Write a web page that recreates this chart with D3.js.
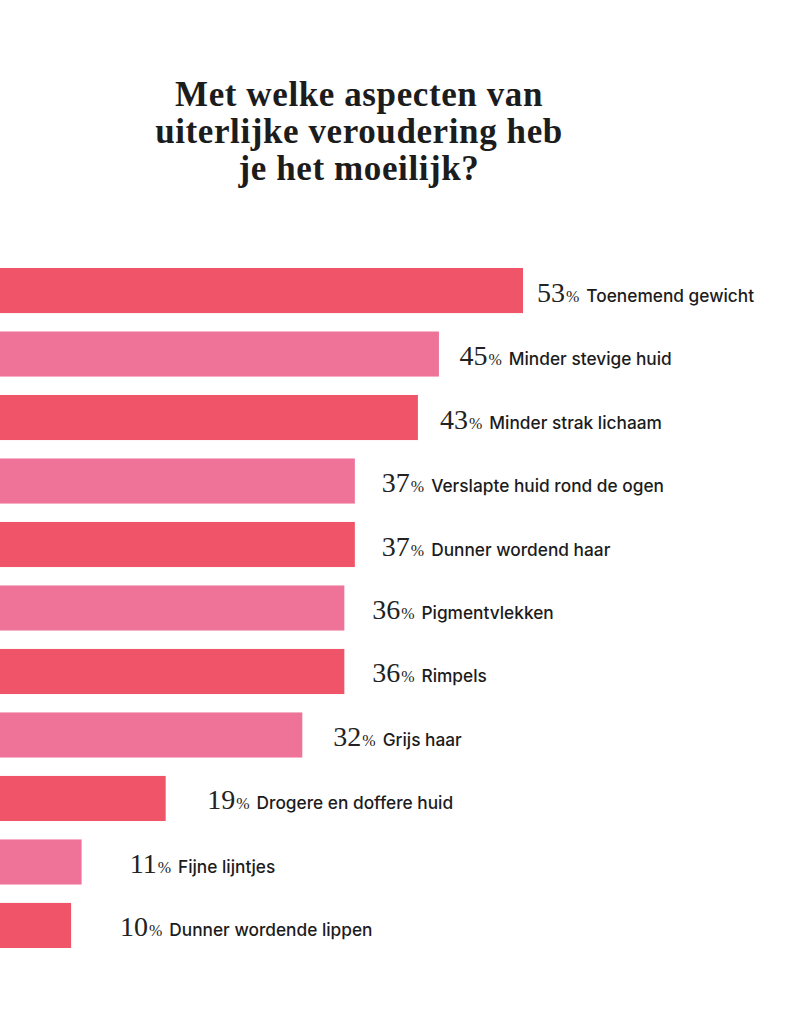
<!DOCTYPE html>
<html><head><meta charset="utf-8">
<script src="https://cdn.jsdelivr.net/npm/d3@7"></script>
<style>html,body{margin:0;padding:0;background:#fff;}svg{display:block;}</style>
</head><body>
<script>
const titleLines = ["Met welke aspecten van", "uiterlijke veroudering heb", "je het moeilijk?"];
const categories = ["Toenemend gewicht","Minder stevige huid","Minder strak lichaam","Verslapte huid rond de ogen","Dunner wordend haar","Pigmentvlekken","Rimpels","Grijs haar","Drogere en doffere huid","Fijne lijntjes","Dunner wordende lippen"];
const values = [53,45,43,37,37,36,36,32,19,11,10];
const colors = ["#F05468","#EF7399"];

const W = 789, H = 1024;
const svg = d3.select("body").append("svg").attr("width", W).attr("height", H);

svg.append("g").selectAll("text").data(titleLines).join("text")
  .attr("x", 359).attr("y", (d,i) => 106 + i*37)
  .attr("text-anchor", "middle")
  .attr("font-family", "Liberation Serif, serif")
  .attr("font-weight", "bold")
  .attr("font-size", 35)
  .attr("letter-spacing", 0.6)
  .attr("fill", "#1c1c1c")
  .text(d => d);

const y = d3.scaleBand().domain(categories).range([268, 948]).paddingInner(0.29);
const x = d3.scaleLinear().domain([0, 53]).range([-34, 523]);
const xl = d3.scaleLinear().domain([0, 53]).range([23, 537]);

svg.append("g").selectAll("rect").data(categories).join("rect")
  .attr("x", 0).attr("y", d => y(d))
  .attr("width", (d,i) => x(values[i]))
  .attr("height", y.bandwidth())
  .attr("fill", (d,i) => colors[i % 2]);

const lbl = svg.append("g").selectAll("text").data(categories).join("text")
  .attr("x", (d,i) => xl(values[i]))
  .attr("y", d => y(d) + y.bandwidth()/2 + 11);
lbl.append("tspan")
  .attr("font-family", "Liberation Serif, serif")
  .attr("font-size", 28).attr("fill", "#222")
  .text((d,i) => values[i]);
lbl.append("tspan")
  .attr("font-family", "Liberation Serif, serif")
  .attr("font-size", 16).attr("fill", "#222").attr("dx", 1)
  .text("%");
lbl.append("tspan")
  .attr("font-family", "Inter, sans-serif")
  .attr("font-size", 17.3).attr("font-weight", 500).attr("fill", "#1c1c1c")
  .attr("dx", 7)
  .text(d => d);
</script>
</body></html>
